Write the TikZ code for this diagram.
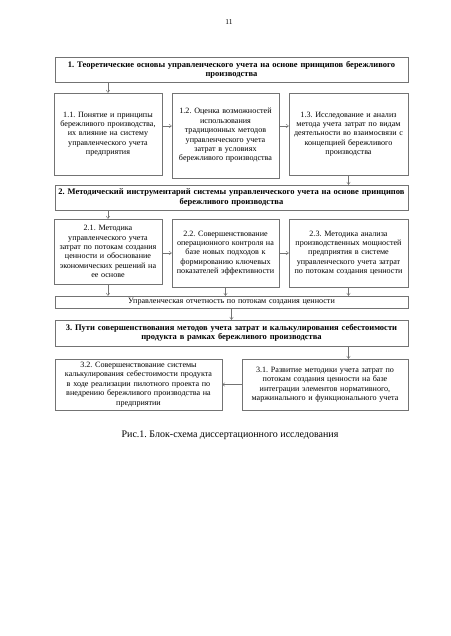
\documentclass[tikz,border=0pt]{standalone}
\usepackage{fontspec}
\setmainfont{Liberation Serif}
\usetikzlibrary{arrows.meta}
\frenchspacing
\begin{document}
\begin{tikzpicture}[x=1pt, y=-1pt,
    box/.style={draw=black!55, align=center, inner sep=1.5pt,
                font=\fontsize{8.1}{9.4}\selectfont},
    head/.style={box, font=\bfseries\fontsize{8.5}{9.2}\selectfont, inner xsep=0pt,
                 minimum width=353pt, text width=353pt, minimum height=25pt},
    sub/.style={box, text width=#1-3pt, minimum width=#1},
    arr/.style={-{To[length=3pt,width=4pt]}, draw=black!55, thin}
]
\useasboundingbox (0,0) rectangle (450,636);
\node[font=\fontsize{7.5}{8}\selectfont] (pg) at (229,22) {11};

\node[head] (b1) at (231.5,69.5)
  {1. Теоретические основы управленческого учета на основе принципов бережливого\\производства};
\node[sub=108pt, minimum height=82pt]  (b11) at (108,134)
  {1.1. Понятие и принципы\\бережливого производства,\\их влияние на систему\\управленческого учета\\предприятия};
\node[sub=107pt, minimum height=85pt]  (b12) at (225.5,135.5)
  {1.2. Оценка возможностей\\использования\\традиционных методов\\управленческого учета\\затрат в условиях\\бережливого производства};
\node[sub=119pt, minimum height=82pt]  (b13) at (348.5,134)
  {1.3. Исследование и анализ\\метода учета затрат по видам\\деятельности во взаимосвязи с\\концепцией бережливого\\производства};

\node[head] (b2) at (231.5,197.5)
  {2. Методический инструментарий системы управленческого учета на основе принципов\\бережливого производства};
\node[sub=108pt, minimum height=65pt]  (b21) at (108,251.5)
  {2.1. Методика\\управленческого учета\\затрат по потокам создания\\ценности и обоснование\\экономических решений на\\ее основе};
\node[sub=107pt, minimum height=68pt]  (b22) at (225.5,253)
  {2.2. Совершенствование\\операционного контроля на\\базе новых подходов к\\формированию ключевых\\показателей эффективности};
\node[sub=119pt, minimum height=68pt]  (b23) at (348.5,253)
  {2.3. Методика анализа\\производственных мощностей\\предприятия в системе\\управленческого учета затрат\\по потокам создания ценности};
\node[sub=353pt, minimum height=12pt, inner sep=1pt] (bar) at (231.5,302)
  {Управленческая отчетность по потокам создания ценности};

\node[head, minimum height=26pt] (b3) at (231.5,333)
  {3. Пути совершенствования методов учета затрат и калькулирования себестоимости\\продукта в рамках бережливого производства};
\node[sub=167pt, minimum height=51pt]  (b32) at (138.5,384.5)
  {3.2. Совершенствование системы\\калькулирования себестоимости продукта\\в ходе реализации пилотного проекта по\\внедрению бережливого производства на\\предприятии};
\node[sub=166pt, minimum height=51pt]  (b31) at (325,384.5)
  {3.1. Развитие методики учета затрат по\\потокам создания ценности на базе\\интеграции элементов нормативного,\\маржинального и функционального учета};

\node[font=\fontsize{10}{12}\selectfont] (cap) at (230,435)
  {Рис.1. Блок-схема диссертационного исследования};

% связи
\draw[arr] (b1.south -| b11.north) -- (b11.north);
\draw[arr] ([yshift=8pt]b11.east) -- ([yshift=8pt]b11.east -| b12.west);
\draw[arr] ([yshift=8pt]b11.east -| b12.east) -- ([yshift=8pt]b11.east -| b13.west);
\draw[arr] (b13.south) -- (b13.south |- b2.north);
\draw[arr] (b2.south -| b21.north) -- (b21.north);
\draw[arr] (b21.east |- b22.east) -- (b22.west);
\draw[arr] (b22.east) -- (b23.west);
\draw[arr] (b21.south) -- (b21.south |- bar.north);
\draw[arr] (b22.south) -- (b22.south |- bar.north);
\draw[arr] (b23.south) -- (b23.south |- bar.north);
\draw[arr] (bar.south) -- (b3.north);
\draw[arr] (b3.south -| b13.south) -- (b13.south |- b31.north);
\draw[arr] (b31.west) -- (b32.east);
\end{tikzpicture}
\end{document}
